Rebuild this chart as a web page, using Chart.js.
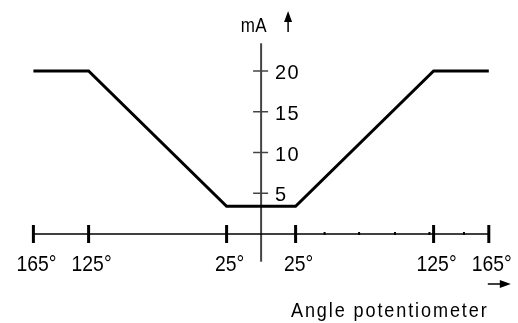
<!DOCTYPE html>
<html lang="en">
<head>
    <meta charset="UTF-8">
    <title>Current vs potentiometer angle</title>
    <script src="https://cdn.jsdelivr.net/npm/chart.js"></script>
    <style>
        html, body { margin: 0; padding: 0; background: #fff; }
        canvas { display: block; }
    </style>
</head>
<body>
    <canvas id="chart" width="518" height="323"></canvas>

    <script>
        // Output current (mA) against potentiometer angle (degrees)
        const curveAngle = [-165, -125, -25, 25, 125, 165];
        const curveCurrent = [20, 20, 3.4, 3.4, 20, 20];

        // Axis ticks and labels
        const angleTicks = [-165, -125, -25, 25, 125, 165];
        const angleLabels = ['165°', '125°', '25°', '25°', '125°', '165°'];
        const minorAngleTicks = [46, 71, 97, 122, 147];
        const currentTicks = [5, 10, 15, 20];
        const currentLabels = ['5', '10', '15', '20'];

        const FONT = '"Liberation Sans", Arial, sans-serif';

        // narrow drafting-style text: draw with a horizontal squeeze
        function drawText(ctx, text, x, y, size, sx, spacing, align) {
            ctx.save();
            ctx.font = size + 'px ' + FONT;
            ctx.letterSpacing = spacing + 'px';
            ctx.textAlign = 'left';
            ctx.textBaseline = 'alphabetic';
            const w = ctx.measureText(text).width * sx;
            let left = x;
            if (align === 'center') left = x - w / 2;
            if (align === 'right') left = x - w;
            ctx.translate(left, y);
            ctx.scale(sx, 1);
            ctx.fillText(text, 0, 0);
            ctx.restore();
            return w;
        }

        // Draws the crossing axes, ticks, labels and arrows
        const axesPlugin = {
            id: 'drawingAxes',
            beforeDatasetsDraw(chart) {
                const ctx = chart.ctx;
                const xs = chart.scales.x;
                const ys = chart.scales.y;
                const x0 = xs.getPixelForValue(0);
                const y0 = ys.getPixelForValue(0);

                ctx.save();
                ctx.lineCap = 'butt';

                // vertical (mA) axis
                ctx.strokeStyle = '#444';
                ctx.lineWidth = 2;
                ctx.beginPath();
                ctx.moveTo(x0, ys.getPixelForValue(23.4));
                ctx.lineTo(x0, ys.getPixelForValue(-3.4));
                ctx.stroke();

                // mA ticks
                ctx.lineWidth = 1.5;
                currentTicks.forEach(v => {
                    const y = ys.getPixelForValue(v);
                    ctx.beginPath();
                    ctx.moveTo(x0 - 8, y);
                    ctx.lineTo(x0 + 7, y);
                    ctx.stroke();
                });

                // horizontal (angle) axis
                ctx.strokeStyle = '#000';
                ctx.lineWidth = 1.5;
                ctx.beginPath();
                ctx.moveTo(xs.getPixelForValue(angleTicks[0]), y0);
                ctx.lineTo(xs.getPixelForValue(angleTicks[angleTicks.length - 1]), y0);
                ctx.stroke();

                // major angle ticks
                ctx.lineWidth = 3;
                angleTicks.forEach(a => {
                    const x = xs.getPixelForValue(a);
                    ctx.beginPath();
                    ctx.moveTo(x, y0 - 9);
                    ctx.lineTo(x, y0 + 9);
                    ctx.stroke();
                });

                // minor dots on the right half
                ctx.fillStyle = '#000';
                minorAngleTicks.forEach(a => {
                    const x = xs.getPixelForValue(a);
                    ctx.fillRect(x - 1, y0 - 2, 2, 3);
                });

                // angle labels
                ctx.font = '22px ' + FONT;
                angleTicks.forEach((a, i) => {
                    const w = ctx.measureText(angleLabels[i]).width * 0.88;
                    let x = xs.getPixelForValue(a) + 3;
                    x = Math.max(x, w / 2 + 8);
                    x = Math.min(x, chart.width - w / 2 - 5);
                    drawText(ctx, angleLabels[i], x, y0 + 37, 22, 0.88, 0, 'center');
                });

                // mA labels
                currentTicks.forEach((v, i) => {
                    drawText(ctx, currentLabels[i], x0 + 14, ys.getPixelForValue(v) + 8, 21, 0.95, 1.5, 'left');
                });

                // axis titles
                drawText(ctx, 'mA', x0 + 6, 32, 20, 0.85, 0.5, 'right');
                drawText(ctx, 'Angle potentiometer', 291, 317, 21, 0.86, 2.2, 'left');

                // up arrow next to mA
                const ax = x0 + 27;
                ctx.lineWidth = 1.5;
                ctx.beginPath();
                ctx.moveTo(ax, 32);
                ctx.lineTo(ax, 20);
                ctx.stroke();
                ctx.beginPath();
                ctx.moveTo(ax, 11);
                ctx.lineTo(ax - 4, 22);
                ctx.lineTo(ax + 4, 22);
                ctx.closePath();
                ctx.fill();

                // right arrow under the axis end
                const ry = 284;
                const rx = xs.getPixelForValue(165);
                ctx.beginPath();
                ctx.moveTo(rx - 1, ry);
                ctx.lineTo(rx + 12, ry);
                ctx.stroke();
                ctx.beginPath();
                ctx.moveTo(rx + 22, ry);
                ctx.lineTo(rx + 11, ry - 4);
                ctx.lineTo(rx + 11, ry + 4);
                ctx.closePath();
                ctx.fill();

                ctx.restore();
            }
        };

        const ctx = document.getElementById('chart').getContext('2d');

        new Chart(ctx, {
            type: 'line',
            data: {
                datasets: [{
                    data: curveAngle.map((a, i) => ({ x: a, y: curveCurrent[i] })),
                    borderColor: '#000',
                    borderWidth: 3,
                    pointRadius: 0,
                    tension: 0,
                    fill: false,
                    clip: false
                }]
            },
            options: {
                responsive: false,
                animation: false,
                layout: {
                    padding: { left: 33.4, right: 29.2, top: 38.4, bottom: 56.4 }
                },
                plugins: {
                    legend: { display: false },
                    title: { display: false },
                    tooltip: { enabled: false }
                },
                scales: {
                    x: { type: 'linear', min: -165, max: 165, display: false },
                    y: { type: 'linear', min: -4, max: 24, display: false }
                }
            },
            plugins: [axesPlugin]
        });
    </script>
</body>
</html>
